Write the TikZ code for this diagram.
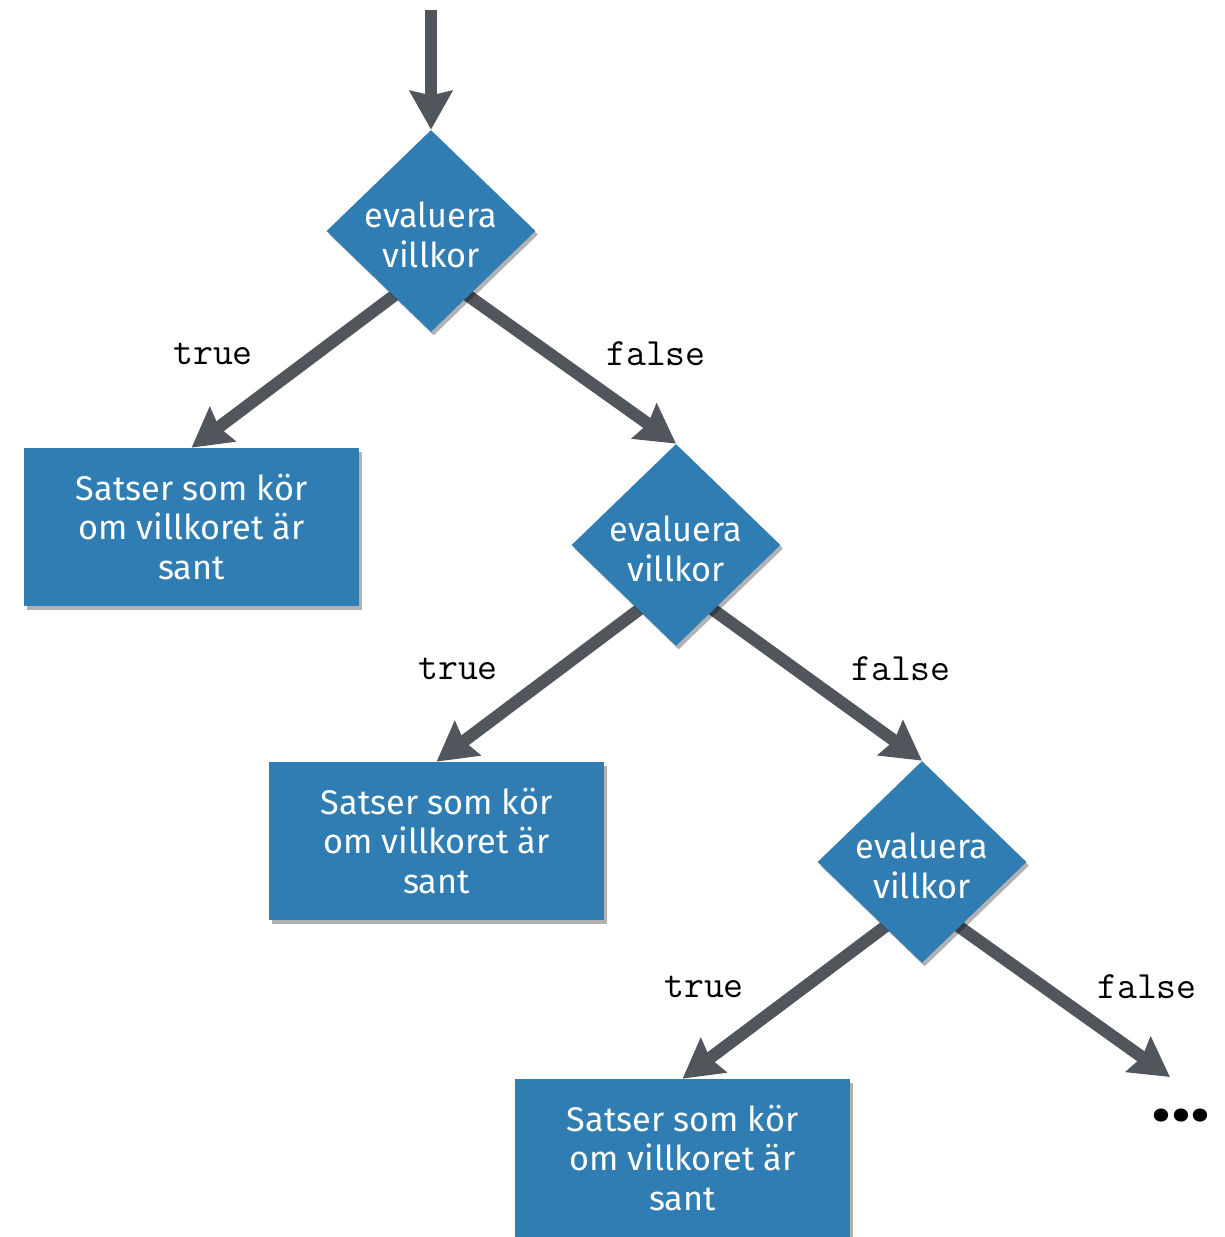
\documentclass[tikz,border=0pt]{standalone}
\usepackage{fontspec}
\setmainfont{Fira Sans}
\newfontfamily\dotsfont{Poppins}
\usetikzlibrary{shapes.geometric,arrows.meta,shadows,calc}
\definecolor{boxblue}{HTML}{2F7DB3}
\definecolor{arrowgray}{HTML}{51565D}
\pgfdeclarelayer{bg}
\pgfsetlayers{bg,main}
\begin{document}
\begin{tikzpicture}[x=0.02cm,y=-0.02cm,
  decision/.style={diamond, fill=boxblue, minimum width=4.18cm, minimum height=4.04cm, inner sep=0pt,
    drop shadow={shadow xshift=1.5pt,shadow yshift=-2pt,opacity=0.3,fill=black}},
  dtext/.style={text=white, align=center, inner sep=0pt, font=\fontsize{19.5}{22.7}\selectfont},
  stmt/.style={rectangle, fill=boxblue, minimum width=6.7cm, minimum height=3.16cm, inner sep=0pt,
    text=white, align=center, font=\fontsize{19.5}{22.7}\selectfont,
    drop shadow={shadow xshift=1.5pt,shadow yshift=-2pt,opacity=0.3,fill=black}},
  flow/.style={draw=arrowgray, line width=7pt, -{Stealth[length=22pt,width=24pt,inset=2.5pt]}},
  lbl/.style={font=\ttfamily\fontsize{22}{24}\selectfont, inner sep=0pt}
]
\useasboundingbox (0,0) rectangle (1224,1237);

% decisions
\node[decision] (d1) at (431,231) {};
\node[dtext] (t1) at (431,235) {evaluera\\villkor};
\node[decision] (d2) at (676,545) {};
\node[dtext] (t2) at (676,549) {evaluera\\villkor};
\node[decision] (d3) at (922,862) {};
\node[dtext] (t3) at (922,866) {evaluera\\villkor};

% statement boxes
\node[stmt] (b1) at (191.5,527) {Satser som kör\\om villkoret är\\sant};
\node[stmt] (b2) at (436.5,841) {Satser som kör\\om villkoret är\\sant};
\node[stmt] (b3) at (682.5,1158) {Satser som kör\\om villkoret är\\sant};

\coordinate (start) at (431,10);
\coordinate (cont) at (1170,1077);

% labels
\node[lbl] (l1t) at (213,354) {true};
\node[lbl] (l1f) at (656,354) {false};
\node[lbl] (l2t) at (458,669) {true};
\node[lbl] (l2f) at (901,669) {false};
\node[lbl] (l3t) at (704,987) {true};
\node[lbl] (l3f) at (1147,987) {false};
\node[font=\dotsfont\bfseries\fontsize{40}{44}\selectfont, inner sep=0pt, anchor=base] (dots) at (1181,1121) {...};

\begin{pgfonlayer}{bg}
\draw[flow] (start) -- (d1.north);
\draw[flow] ($(d1.240)!-14pt!(b1.north)$) -- (b1.north);
\draw[flow] ($(d1.300)!-14pt!(d2.north)$) -- (d2.north);
\draw[flow] ($(d2.240)!-14pt!(b2.north)$) -- (b2.north);
\draw[flow] ($(d2.300)!-14pt!(d3.north)$) -- (d3.north);
\draw[flow] ($(d3.240)!-14pt!(b3.north)$) -- (b3.north);
\draw[flow] ($(d3.300)!-14pt!(cont)$) -- (cont);
\end{pgfonlayer}
\end{tikzpicture}
\end{document}
